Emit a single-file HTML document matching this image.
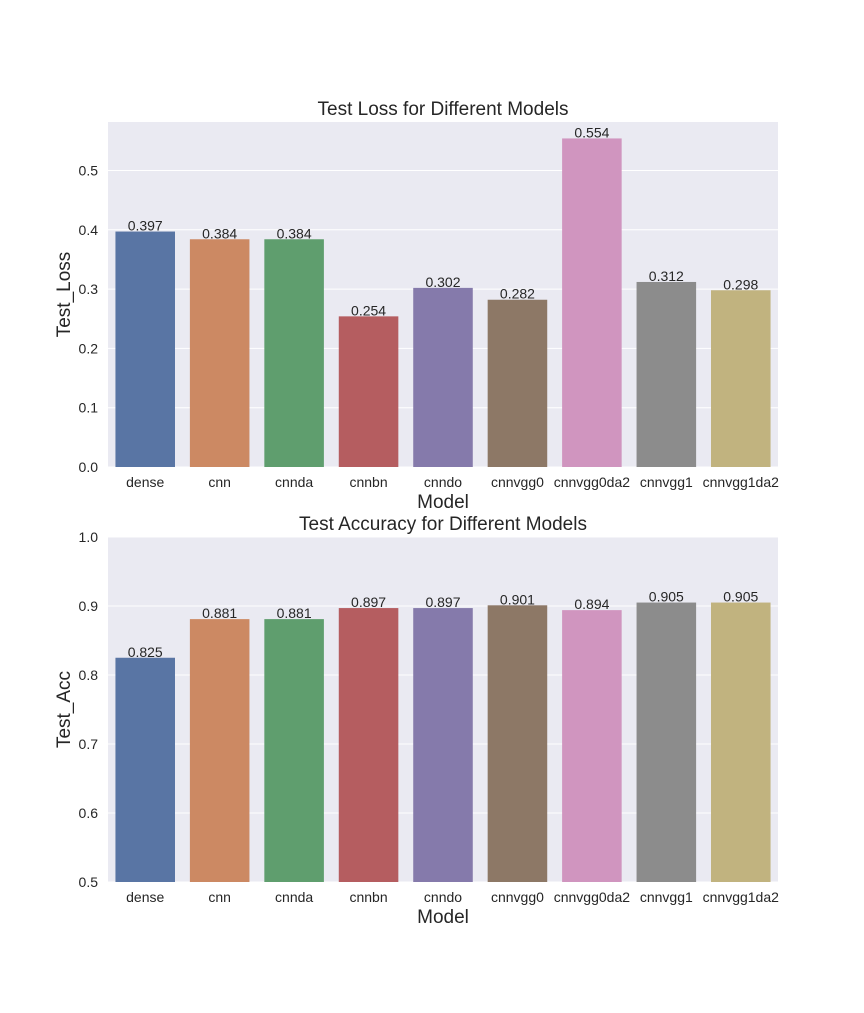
<!DOCTYPE html>
<html><head><meta charset="utf-8"><style>
body{margin:0;background:#fff;}
svg text{font-family:"Liberation Sans",Arial,sans-serif;fill:#262626;}
</style></head><body>
<svg id="c" width="864" height="1008" xmlns="http://www.w3.org/2000/svg"></svg>
<script>
const categories=["dense","cnn","cnnda","cnnbn","cnndo","cnnvgg0","cnnvgg0da2","cnnvgg1","cnnvgg1da2"];
const lossValues=[0.397,0.384,0.384,0.254,0.302,0.282,0.554,0.312,0.298];
const accValues=[0.825,0.881,0.881,0.897,0.897,0.901,0.894,0.905,0.905];
const lossTicks=[0.0,0.1,0.2,0.3,0.4,0.5];
const accTicks=[0.5,0.6,0.7,0.8,0.9,1.0];
const colors=["#5975a4","#cc8963","#5f9e6e","#b55d60","#857aab","#8d7866","#d095bf","#8c8c8c","#c1b37f"];
const svg=document.getElementById('c');
const NS="http://www.w3.org/2000/svg";
function mk(tag,attrs,text){const e=document.createElementNS(NS,tag);for(const k in attrs)e.setAttribute(k,attrs[k]);if(text!==undefined)e.textContent=text;svg.appendChild(e);return e;}
function panel(p){
  const L=108,R=778,T=p.top,B=p.top+345;
  const x=i=>L+(i+0.5)*(R-L)/categories.length;
  const bw=0.8*(R-L)/categories.length;
  const y=v=>B-(v-p.ymin)/(p.ymax-p.ymin)*(B-T);
  const bg=mk('rect',{x:L,y:T,width:R-L,height:B-T,fill:'#eaeaf2'});
  
  
  p.ticks.forEach(t=>{
    const g=mk('line',{x1:L,x2:R,y1:y(t),y2:y(t),stroke:'#fff','stroke-width':1});
    
    
    const tl=mk('text',{x:L-10,y:y(t)+5,'text-anchor':'end','font-size':14},t.toFixed(1));
    
    
  });
  p.values.forEach((v,i)=>{
    const b=mk('rect',{x:x(i)-bw/2,y:y(v),width:bw,height:B-y(v),fill:colors[i]});
    
    
    const vl=mk('text',{x:x(i),y:y(v)-1,'text-anchor':'middle','font-size':14},v.toFixed(3));
    
    
    const cl=mk('text',{x:x(i),y:B+20,'text-anchor':'middle','font-size':14},categories[i]);
    
    
  });
  const tt=mk('text',{x:(L+R)/2,y:T-7,'text-anchor':'middle','font-size':19},p.title);
  
  
  const xl=mk('text',{x:(L+R)/2,y:B+41,'text-anchor':'middle','font-size':19},'Model');
  
  
  const cy=(T+B)/2;
  const yl=mk('text',{x:70,y:cy,'text-anchor':'middle','font-size':19,transform:'rotate(-90 70 '+cy+')'},p.ylabel);
  
  
}
panel({id:'loss',top:122,values:lossValues,ticks:lossTicks,ymin:0,ymax:0.5817,title:'Test Loss for Different Models',ylabel:'Test_Loss'});
panel({id:'acc',top:537,values:accValues,ticks:accTicks,ymin:0.5,ymax:1.0,title:'Test Accuracy for Different Models',ylabel:'Test_Acc'});
</script>
</body></html>
